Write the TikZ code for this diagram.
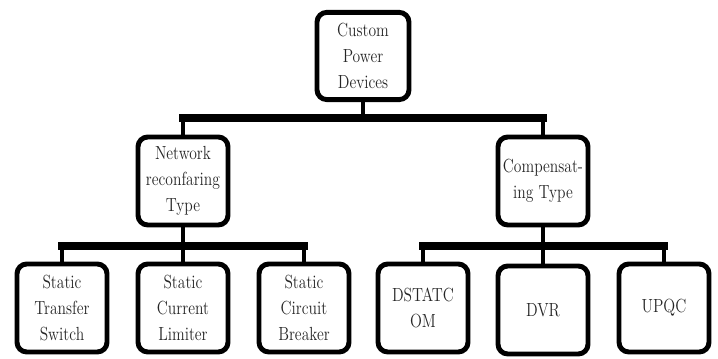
\documentclass[tikz,border=0pt]{standalone}
\usepackage{fontspec}
\setmainfont{Latin Modern Roman}[FakeStretch=0.82]
\usepackage{tikz}
\usetikzlibrary{positioning}

\tikzset{
  devbox/.style={draw, line width=3.5pt, rounded corners=7pt, fill=white,
    minimum width=2.25cm, minimum height=2.2cm, align=center, inner sep=1pt,
    text=black!85, font=\rmfamily\fontsize{13.5}{18.5}\selectfont},
  bus/.style={line width=5pt, line cap=rect},
  stub/.style={line width=3.2pt}
}

\begin{document}
\begin{tikzpicture}[x=0.025cm, y=-0.025cm]
  \useasboundingbox (0,0) rectangle (718,359);

  % root
  \node[devbox, minimum width=2.3cm, minimum height=2.18cm] (cpd) at (363,56) {Custom\\Power\\Devices};

  % second level
  \node[devbox] (net) at (183,181) {Network\\reconfaring\\Type};
  \node[devbox] (comp) at (543,181) {Compensat-\\ing Type};

  % third level
  \node[devbox] (sts) at (62,308) {Static\\Transfer\\Switch};
  \node[devbox] (scl) at (183,308) {Static\\Current\\Limiter};
  \node[devbox] (scb) at (304,308) {Static\\Circuit\\Breaker};
  \node[devbox] (dst) at (423,308) {DSTATC\\OM};
  \node[devbox] (dvr) at (543,310) {DVR};
  \node[devbox] (upqc) at (664,308) {UPQC};

  % buses
  \coordinate (busTop) at (363,118);
  \coordinate (busNet) at (183,246);
  \coordinate (busComp) at (543,246);

  \draw[stub] (cpd.south) -- (cpd.south |- busTop);
  \draw[bus] (net.north |- busTop) -- (comp.north |- busTop);
  \draw[stub] (net.north |- busTop) -- (net.north);
  \draw[stub] (comp.north |- busTop) -- (comp.north);

  \draw[stub] (net.south) -- (net.south |- busNet);
  \draw[bus] (sts.north |- busNet) -- (scb.north |- busNet);
  \foreach \n in {sts, scl, scb}
    \draw[stub] (\n.north |- busNet) -- (\n.north);

  \draw[stub] (comp.south) -- (comp.south |- busComp);
  \draw[bus] (dst.north |- busComp) -- (upqc.north |- busComp);
  \foreach \n in {dst, dvr, upqc}
    \draw[stub] (\n.north |- busComp) -- (\n.north);
\end{tikzpicture}
\end{document}
